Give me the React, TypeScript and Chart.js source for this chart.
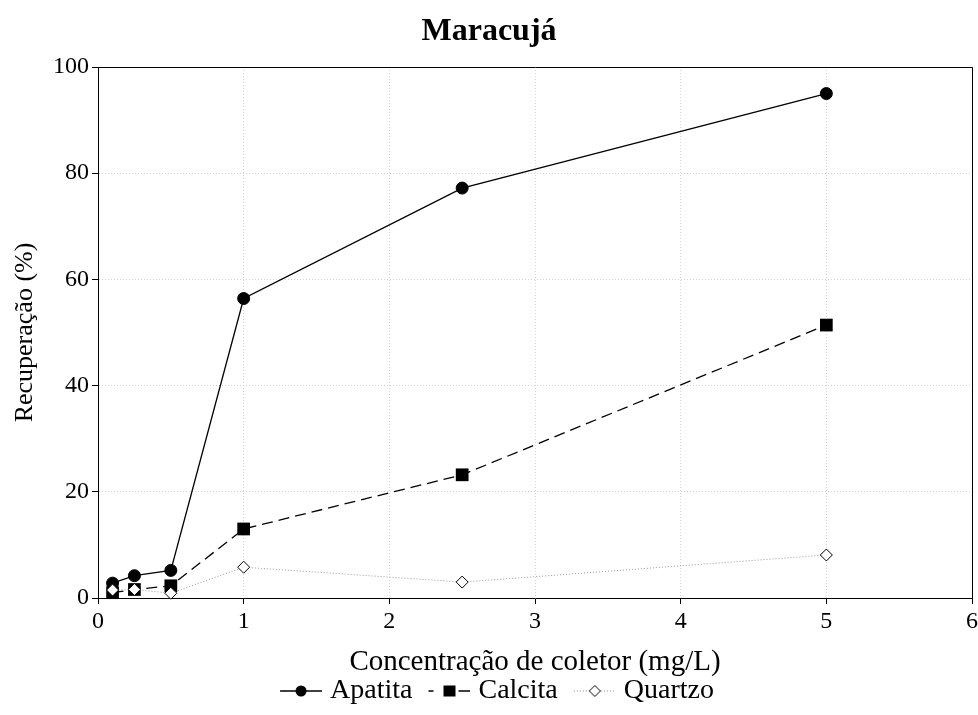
import React, { useEffect, useRef } from 'react';
import { Chart, registerables } from 'chart.js';

Chart.register(...registerables);

const chartTitle = 'Maracujá';
const xAxisTitle = 'Concentração de coletor (mg/L)';
const yAxisTitle = 'Recuperação (%)';
const seriesNames = ['Apatita', 'Calcita', 'Quartzo'];
const concentrations = [0.1, 0.25, 0.5, 1, 2.5, 5];
const apatita = [2.8, 4.2, 5.2, 56.4, 77.2, 95.0];
const calcita = [1.0, 1.6, 2.3, 13.0, 23.2, 51.4];
const quartzo = [1.5, 1.6, 0.9, 5.8, 3.0, 8.1];
const xMin = 0, xMax = 6, xStep = 1;
const yMin = 0, yMax = 100, yStep = 20;

const FONT = "'Liberation Serif', 'Times New Roman', serif";
const LEG_BOX = 52;
const LEG_IMG_W = LEG_BOX + 12;

function makeLegendImage(kind: number): HTMLCanvasElement {
  const W = LEG_IMG_W, H = 16;
  const c = document.createElement('canvas');
  c.width = W; c.height = H;
  const g = c.getContext('2d')!;
  const cy = H / 2;
  const x1 = W, x0 = W - 42;
  const cx = (x0 + x1) / 2;
  g.strokeStyle = '#000';
  g.lineWidth = 1.3;
  if (kind === 0) {
    g.beginPath(); g.moveTo(x0, cy); g.lineTo(x1, cy); g.stroke();
    g.fillStyle = '#000';
    g.beginPath(); g.arc(cx, cy, 5.5, 0, Math.PI * 2); g.fill();
  } else if (kind === 1) {
    g.beginPath();
    g.moveTo(x0, cy); g.lineTo(x0 + 5, cy);
    g.moveTo(cx + 9, cy); g.lineTo(x1, cy);
    g.stroke();
    g.fillStyle = '#000';
    g.fillRect(cx - 6, cy - 5.5, 12, 11);
  } else {
    g.strokeStyle = '#888';
    g.lineWidth = 1;
    g.setLineDash([1, 2]);
    g.beginPath(); g.moveTo(x0, cy); g.lineTo(x1, cy); g.stroke();
    g.setLineDash([]);
    g.fillStyle = '#fff';
    g.strokeStyle = '#000';
    g.beginPath();
    g.moveTo(cx, cy - 5.5); g.lineTo(cx + 5.5, cy); g.lineTo(cx, cy + 5.5); g.lineTo(cx - 5.5, cy); g.closePath();
    g.fill(); g.stroke();
  }
  return c;
}

const frameBorder = {
  id: 'frameBorder',
  afterDraw(chart: any) {
    const { ctx, chartArea } = chart;
    ctx.save();
    ctx.strokeStyle = '#000';
    ctx.lineWidth = 1;
    const l = Math.round(chartArea.left) + 0.5;
    const t = Math.round(chartArea.top) + 0.5;
    const r = Math.round(chartArea.right) + 0.5;
    const b = Math.round(chartArea.bottom) + 0.5;
    ctx.beginPath();
    ctx.moveTo(l, t); ctx.lineTo(r, t); ctx.lineTo(r, b);
    ctx.stroke();
    ctx.restore();
  },
};

export default function App() {
  const ref = useRef<HTMLCanvasElement | null>(null);

  useEffect(() => {
    if (!ref.current) return;
    Chart.defaults.font.family = FONT;
    Chart.defaults.color = '#000';
    const toPts = (ys: number[]) => concentrations.map((x, i) => ({ x, y: ys[i] }));
    const legendImgs = [0, 1, 2].map(makeLegendImage);

    const chart = new Chart(ref.current, {
      type: 'line',
      data: {
        datasets: [
          {
            label: seriesNames[0],
            data: toPts(apatita),
            borderColor: '#000',
            backgroundColor: '#000',
            borderWidth: 1.3,
            pointStyle: 'circle',
            pointRadius: 6,
            pointBorderWidth: 1,
            pointBackgroundColor: '#000',
            pointBorderColor: '#000',
            tension: 0,
            clip: false,
            order: 1,
          },
          {
            label: seriesNames[1],
            data: toPts(calcita),
            borderColor: '#000',
            backgroundColor: '#000',
            borderWidth: 1.3,
            borderDash: [11, 6],
            pointStyle: 'rect',
            pointRadius: 9,
            pointBorderWidth: 0,
            pointBackgroundColor: '#000',
            pointBorderColor: '#000',
            tension: 0,
            clip: false,
            order: 2,
          },
          {
            label: seriesNames[2],
            data: toPts(quartzo),
            borderColor: '#999',
            backgroundColor: '#fff',
            borderWidth: 1,
            borderDash: [1, 2],
            pointStyle: 'rectRot',
            pointRadius: 6,
            pointBorderWidth: 1,
            pointBackgroundColor: '#fff',
            pointBorderColor: '#000',
            tension: 0,
            clip: false,
            order: 0,
          },
        ],
      },
      options: {
        animation: false,
        responsive: true,
        maintainAspectRatio: false,
        layout: { autoPadding: false, padding: { left: 0, right: 0, top: 0, bottom: 0 } },
        plugins: {
          title: {
            display: true,
            text: chartTitle,
            color: '#000',
            font: { family: FONT, size: 32, weight: 'bold', lineHeight: 1.2 },
            padding: { top: 13, bottom: 15.6 },
          },
          legend: {
            display: true,
            position: 'bottom',
            labels: {
              usePointStyle: true,
              pointStyleWidth: LEG_BOX,
              boxHeight: 16,
              padding: 0,
              color: '#000',
              font: { family: FONT, size: 28 },
              generateLabels: () =>
                seriesNames.map((name, i) => ({
                  text: name,
                  pointStyle: legendImgs[i],
                  fillStyle: '#000',
                  strokeStyle: '#000',
                  lineWidth: 1,
                  hidden: false,
                  datasetIndex: i,
                  fontColor: '#000',
                })) as any,
            },
          },
          tooltip: { enabled: false },
        },
        scales: {
          x: {
            type: 'linear',
            min: xMin,
            max: xMax,
            ticks: { stepSize: xStep, padding: 3, color: '#000', font: { family: FONT, size: 24 } },
            grid: { color: '#d4d4d4', lineWidth: 1, drawTicks: true, tickLength: 6, tickColor: '#000', tickWidth: 1 },
            border: { display: true, color: '#000', width: 1, dash: [1, 2] },
            title: {
              display: true,
              text: xAxisTitle,
              color: '#000',
              font: { family: FONT, size: 29, lineHeight: 1 },
              padding: { top: 0, bottom: 0 },
            },
            afterFit: (s: any) => { s.height = 79; s.paddingRight = 6; },
          },
          y: {
            type: 'linear',
            min: yMin,
            max: yMax,
            ticks: { stepSize: yStep, padding: 3, color: '#000', font: { family: FONT, size: 24 } },
            grid: { color: '#d4d4d4', lineWidth: 1, drawTicks: true, tickLength: 6, tickColor: '#000', tickWidth: 1 },
            border: { display: true, color: '#000', width: 1, dash: [1, 2] },
            title: {
              display: true,
              text: yAxisTitle,
              color: '#000',
              font: { family: FONT, size: 26, lineHeight: 1 },
              padding: { top: 12, bottom: 0 },
            },
            afterFit: (s: any) => { s.width = 98; },
          },
        },
      },
      plugins: [frameBorder],
    });
    return () => chart.destroy();
  }, []);

  return (
    <div style={{ position: 'absolute', left: 0, top: 0, width: 978, height: 715, background: '#fff' }}>
      <canvas ref={ref} />
    </div>
  );
}
